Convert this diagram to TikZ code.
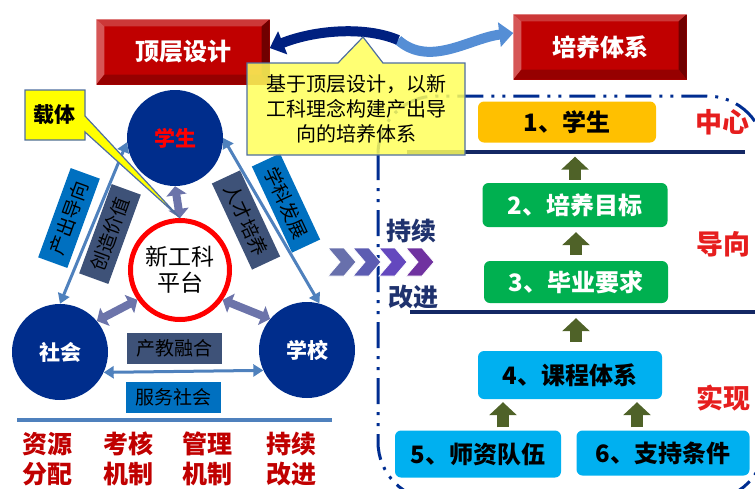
\documentclass[tikz,border=0pt]{standalone}
\usepackage{fontspec}
\setmainfont{Noto Sans CJK SC}
\usepackage{xcolor}
\usepackage{tikz}
\usetikzlibrary{shapes, arrows.meta, positioning, calc, shapes.callouts}
\definecolor{topred}{RGB}{192, 0, 0}
\definecolor{bevellight}{RGB}{214, 86, 86}
\definecolor{beveltop}{RGB}{204, 56, 56}
\definecolor{beveldark}{RGB}{112, 0, 0}
\definecolor{bevelbottom}{RGB}{150, 0, 0}
\definecolor{hubblue}{RGB}{0, 45, 140}
\definecolor{platred}{RGB}{255, 0, 0}
\definecolor{linkblue}{RGB}{79, 129, 189}
\definecolor{fatlinkcolor}{RGB}{108, 116, 170}
\definecolor{fuseslate}{RGB}{62, 82, 120}
\definecolor{serveblue}{RGB}{0, 112, 192}
\definecolor{botred}{RGB}{192, 0, 0}
\definecolor{sidered}{RGB}{230, 30, 30}
\definecolor{framenavy}{RGB}{0, 45, 145}
\definecolor{rulenavy}{RGB}{20, 40, 100}
\definecolor{lvorange}{RGB}{255, 192, 0}
\definecolor{lvgreen}{RGB}{0, 176, 80}
\definecolor{lvcyan}{RGB}{0, 176, 240}
\definecolor{olivegreen}{RGB}{79, 98, 40}
\definecolor{keepnavy}{RGB}{31, 50, 110}
\definecolor{swapnavy}{RGB}{0, 32, 128}
\definecolor{swaplight}{RGB}{85, 142, 213}
\definecolor{noteyellow}{RGB}{255, 255, 90}
\definecolor{carrieryellow}{RGB}{255, 255, 0}
\definecolor{noteedge}{RGB}{79, 110, 160}
\definecolor{chevone}{RGB}{104, 112, 172}
\definecolor{chevtwo}{RGB}{92, 92, 178}
\definecolor{chevthree}{RGB}{100, 72, 190}
\definecolor{chevfour}{RGB}{112, 50, 160}

\begin{document}
\begin{tikzpicture}[x=1pt, y=-1pt,
    bevelbox/.style={fill=topred, minimum width=173pt, minimum height=65pt, text=white, font=\fontsize{24}{28}\selectfont\bfseries},
    hub/.style={circle, fill=hubblue, minimum size=96pt, font=\fontsize{21}{24}\selectfont\bfseries},
    link/.style={draw=linkblue, line width=3pt, {Triangle[length=10pt,width=12pt]}-{Triangle[length=10pt,width=12pt]}},
    fatlink/.style={draw=fatlinkcolor, line width=8pt, {Triangle[length=9pt,width=20pt]}-{Triangle[length=9pt,width=20pt]}},
    tag/.style={minimum width=95pt, minimum height=31pt, inner sep=0pt, font=\fontsize{19}{22}\selectfont},
    mech/.style={text=botred, align=center, font=\fontsize{25}{30}\selectfont\bfseries},
    level/.style={rounded corners=6pt, inner sep=0pt, font=\fontsize{24}{28}\selectfont\bfseries},
    uparrow/.style={draw=olivegreen, line width=12pt, -{Triangle[length=13pt,width=27pt]}},
    side/.style={text=sidered, font=\fontsize{27}{30}\selectfont\bfseries},
    keep/.style={text=keepnavy, font=\fontsize{25}{28}\selectfont\bfseries},
    frame/.style={draw=framenavy, line width=3pt, dash pattern=on 26pt off 8pt on 3pt off 8pt on 3pt off 8pt, rounded corners=58pt},
    rule/.style={draw=rulenavy, line width=3.5pt}
]
    \useasboundingbox (0,0) rectangle (755,488);

    % Right frame and rules
    \draw[frame] (378,96) rectangle (765,500);
    \draw[rule] (407,152) -- (745,152);
    \draw[rule] (410,312) -- (755,312);

    % Top boxes
    \node[bevelbox] (top) at (183,52) {顶层设计};
    \node[bevelbox] (sys) at (600,47) {培养体系};
    \foreach \b in {top, sys} {
        \fill[beveltop] (\b.north west) -- (\b.north east) -- ([shift={(-8pt,-7pt)}]\b.north east) -- ([shift={(8pt,-7pt)}]\b.north west) -- cycle;
        \fill[bevellight] (\b.north west) -- ([shift={(8pt,-7pt)}]\b.north west) -- ([shift={(8pt,10pt)}]\b.south west) -- (\b.south west) -- cycle;
        \fill[beveldark] (\b.north east) -- ([shift={(-8pt,-7pt)}]\b.north east) -- ([shift={(-8pt,10pt)}]\b.south east) -- (\b.south east) -- cycle;
        \fill[bevelbottom] (\b.south west) -- ([shift={(8pt,10pt)}]\b.south west) -- ([shift={(-8pt,10pt)}]\b.south east) -- (\b.south east) -- cycle;
    }

    % Swap arrows
    \coordinate (swap) at (398,40);
    \coordinate (pin) at (363,37);
    \draw[swaplight, line width=10pt, -{Triangle[length=14pt,width=24pt]}] (swap) .. controls (430,68) and (470,38) .. ([yshift=14pt]sys.west);
    \draw[swapnavy, line width=10pt, -{Triangle[length=14pt,width=24pt]}] (swap) .. controls (365,26) and (315,30) .. ([yshift=4pt]top.east);

    % Platform triangle
    \node[hub, text=platred] (stu) at (175,138) {学生};
    \node[hub, text=white] (soc) at (60,352) {社会};
    \node[hub, text=white] (sch) at (307,350) {学校};
    \node[circle, draw=platred, line width=5pt, fill=white, minimum size=99pt, align=center, font=\fontsize{23}{26}\selectfont] (plat) at (180,270) {新工科\\平台};

    \draw[link] (stu.185) -- (soc.90);
    \draw[link] (stu.0) -- (sch.75);
    \draw[link] (soc.-25) -- (sch.205);
    \draw[fatlink] (stu.south) -- (plat.north);
    \draw[fatlink] (soc.40) -- (plat.215);
    \draw[fatlink] (sch.140) -- (plat.-35);

    \node[tag, fill=serveblue, rotate=70] (outp) at (69,218) {产出导向};
    \node[tag, fill=fuseslate, rotate=70] (valu) at (110,234) {创造价值};
    \node[tag, fill=fuseslate, rotate=-65] (tale) at (246,220) {人才培养};
    \node[tag, fill=serveblue, rotate=-65] (disc) at (286,203) {学科发展};
    \node[tag, fill=fuseslate] (fuse) at (174,348) {产教融合};
    \node[tag, fill=serveblue] (serv) at (173,397) {服务社会};

    % Mechanisms
    \draw[linkblue, line width=4pt] (17,420) -- (332,420);
    \node[mech] (res) at (47,459) {资源\\分配};
    \node[mech] (eva) at (128,459) {考核\\机制};
    \node[mech] (man) at (207,459) {管理\\机制};
    \node[mech] (imp) at (291,459) {持续\\改进};

    % Continuous improvement
    \foreach \x/\c in {328/chevone, 353/chevtwo, 379/chevthree, 406/chevfour} {
        \filldraw[fill=\c, draw=white, line width=0.8pt] (\x,248) -- ++(16,0) -- ++(12,14) -- ++(-12,14) -- ++(-16,0) -- ++(12,-14) -- cycle;
    }
    \node[keep] (kp1) at (411,231) {持续};
    \node[keep] (kp2) at (413,297) {改进};

    % Levels
    \node[level, fill=lvorange, minimum width=178pt, minimum height=41pt] (l1) at (567,122) {1、学生};
    \node[level, fill=lvgreen, text=white, minimum width=185pt, minimum height=44pt] (l2) at (575,205) {2、培养目标};
    \node[level, fill=lvgreen, text=white, minimum width=184pt, minimum height=42pt] (l3) at (576,282) {3、毕业要求};
    \node[level, fill=lvcyan, minimum width=184pt, minimum height=48pt] (l4) at (570,375) {4、课程体系};
    \node[level, fill=lvcyan, minimum width=166pt, minimum height=47pt] (l5) at (478,454) {5、师资队伍};
    \node[level, fill=lvcyan, minimum width=173pt, minimum height=45pt] (l6) at (663,453) {6、支持条件};

    \draw[uparrow, shorten <=3pt, shorten >=14pt] (l2.north) -- (l2.north |- l1.south);
    \draw[uparrow, shorten <=6pt, shorten >=5pt] (l3.north) -- (l3.north |- l2.south);
    \draw[uparrow, shorten <=9pt, shorten >=15pt] ([xshift=6pt]l4.north) -- ([xshift=6pt]l4.north |- l3.south);
    \draw[uparrow, shorten <=3pt, shorten >=3pt] ([xshift=25pt]l5.north) -- ([xshift=25pt]l5.north |- l4.south);
    \draw[uparrow, shorten <=3pt, shorten >=3pt] ([xshift=-26pt]l6.north) -- ([xshift=-26pt]l6.north |- l4.south);

    \node[side] (ctr) at (722,122) {中心};
    \node[side] (gui) at (723,244) {导向};
    \node[side] (rea) at (723,398) {实现};

    % Callouts
    \node[rectangle callout, callout absolute pointer={(pin)}, callout pointer width=45pt, fill=noteyellow, fill opacity=0.85, text opacity=1, draw=noteedge, line width=1.2pt, minimum width=218pt, minimum height=92pt, align=center, font=\fontsize{20}{25}\selectfont] (note) at (356,109) {基于顶层设计，以新\\工科理念构建产出导\\向的培养体系};
    \node[rectangle callout, callout absolute pointer={(plat.north)}, callout pointer width=16pt, fill=carrieryellow, draw=noteedge, line width=1.2pt, minimum width=60pt, minimum height=50pt, font=\fontsize{21}{24}\selectfont\bfseries] (carrier) at (55,115) {载体};
\end{tikzpicture}
\end{document}
